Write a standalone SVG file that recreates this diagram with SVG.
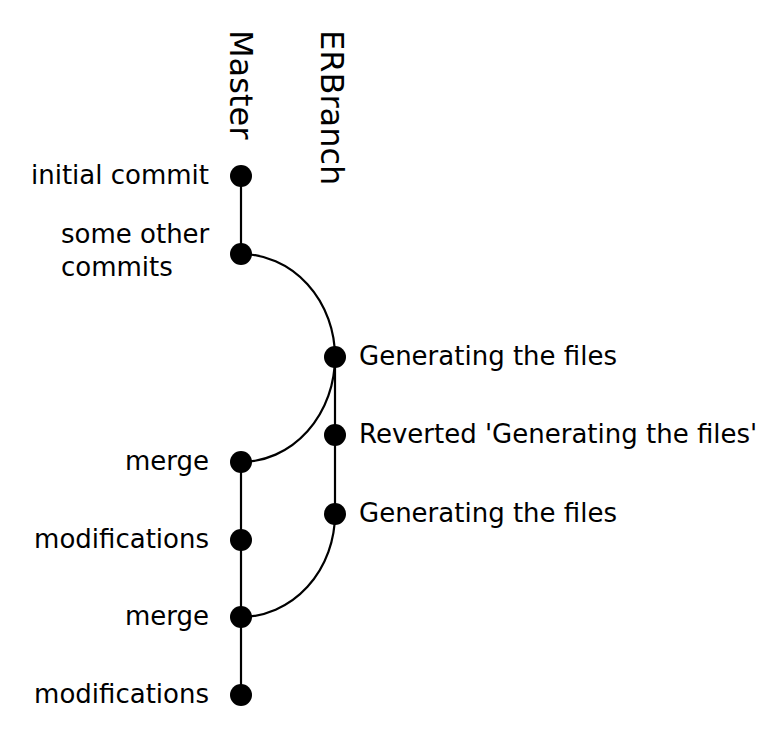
<svg xmlns="http://www.w3.org/2000/svg" width="777" height="742" viewBox="0 0 777 742">
<style>
.edge{fill:none;stroke:#000;stroke-width:2.2}
.dot{fill:#000}
text{font-family:"DejaVu Sans",sans-serif;fill:#000}
.lbl{font-size:26px}
.l{text-anchor:end}
.br{font-size:32px}
</style>
<rect width="777" height="742" fill="#fff"/>
<g id="branches">
<text class="br" transform="translate(230,30) rotate(90)">Master</text>
<text class="br" transform="translate(321,30) rotate(90)">ERBranch</text>
</g>
<g id="connectors">
<path class="edge" d="M241,176 L241,254"/>
<path class="edge" d="M241,462 L241,695"/>
<path class="edge" d="M335,357 L335,514"/>
<path class="edge" d="M241,254 A94,103 0 0 1 335,357"/>
<path class="edge" d="M335,357 A94,105 0 0 1 241,462"/>
<path class="edge" d="M335,514 A94,103 0 0 1 241,617"/>
</g>
<g id="n1"><circle class="dot" cx="241" cy="176" r="11"/><text class="lbl l" x="209" y="184">initial commit</text></g>
<g id="n2"><circle class="dot" cx="241" cy="254" r="11"/><text class="lbl" x="61" y="243"><tspan x="61">some other</tspan><tspan x="61" y="276">commits</tspan></text></g>
<g id="n3"><circle class="dot" cx="335" cy="357" r="11"/><text class="lbl" x="359" y="365">Generating the files</text></g>
<g id="n4"><circle class="dot" cx="335" cy="435" r="11"/><text class="lbl" x="359" y="443">Reverted 'Generating the files'</text></g>
<g id="n5"><circle class="dot" cx="335" cy="514" r="11"/><text class="lbl" x="359" y="522">Generating the files</text></g>
<g id="n6"><circle class="dot" cx="241" cy="462" r="11"/><text class="lbl l" x="209" y="470">merge</text></g>
<g id="n7"><circle class="dot" cx="241" cy="540" r="11"/><text class="lbl l" x="209" y="548">modifications</text></g>
<g id="n8"><circle class="dot" cx="241" cy="617" r="11"/><text class="lbl l" x="209" y="625">merge</text></g>
<g id="n9"><circle class="dot" cx="241" cy="695" r="11"/><text class="lbl l" x="209" y="703">modifications</text></g>
</svg>
